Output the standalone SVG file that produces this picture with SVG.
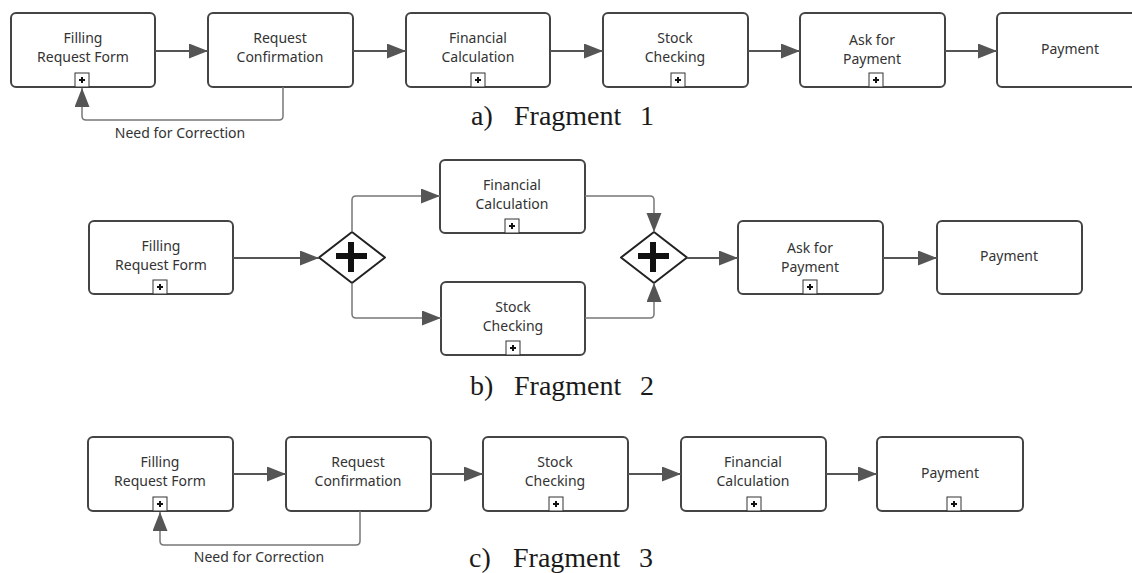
<svg xmlns="http://www.w3.org/2000/svg" width="1132" height="573" viewBox="0 0 1132 573">
<style>
.box{fill:#fff;stroke:#444;stroke-width:2}
.lbl{font-family:"Noto Sans","Open Sans",sans-serif;font-size:14px;fill:#333;text-anchor:middle}
.cap{font-family:"Liberation Serif","DejaVu Serif",serif;font-size:28px;fill:#1a1a1a}
.flow{fill:none;stroke:#555;stroke-width:2}
.thin{fill:none;stroke:#777;stroke-width:1.5}
.mk{fill:#fff;stroke:#333;stroke-width:1}
.mkp{fill:none;stroke:#111;stroke-width:2}
.gw{fill:#fff;stroke:#222;stroke-width:2;stroke-linejoin:round}
.plus{fill:none;stroke:#111;stroke-width:6}
</style>
<defs>
<marker id="ah" markerUnits="userSpaceOnUse" markerWidth="20" markerHeight="16" refX="19" refY="7.5" orient="auto">
<path d="M0,0 L19,7.5 L0,15 z" fill="#555"/>
</marker>
<g id="sub">
<rect class="mk" x="-7" y="-14" width="14" height="14"/>
<path class="mkp" d="M-3,-7 H3 M0,-10 V-4"/>
</g>
</defs>

<!-- Fragment 1 -->
<g id="f1-filling"><rect class="box" x="11" y="13" width="144" height="74" rx="5"/><text class="lbl" x="83" y="43">Filling</text><text class="lbl" x="83" y="62">Request Form</text><use href="#sub" x="82" y="87"/></g>
<g id="f1-confirm"><rect class="box" x="208" y="13" width="145" height="74" rx="5"/><text class="lbl" x="280" y="43">Request</text><text class="lbl" x="280" y="62">Confirmation</text></g>
<g id="f1-financial"><rect class="box" x="406" y="13" width="144" height="74" rx="5"/><text class="lbl" x="478" y="43">Financial</text><text class="lbl" x="478" y="62">Calculation</text><use href="#sub" x="478" y="87"/></g>
<g id="f1-stock"><rect class="box" x="603" y="13" width="145" height="74" rx="5"/><text class="lbl" x="675" y="43">Stock</text><text class="lbl" x="675" y="62">Checking</text><use href="#sub" x="678" y="87"/></g>
<g id="f1-ask"><rect class="box" x="800" y="13" width="145" height="74" rx="5"/><text class="lbl" x="872" y="45">Ask for</text><text class="lbl" x="872" y="64">Payment</text><use href="#sub" x="876" y="87"/></g>
<g id="f1-payment"><rect class="box" x="997" y="13" width="145" height="74" rx="5"/><text class="lbl" x="1070" y="54">Payment</text></g>
<text class="cap" x="471" y="125">a)</text><text class="cap" x="514" y="125">Fragment</text><text class="cap" x="640" y="125">1</text>

<!-- Fragment 2 -->
<g id="f2-filling"><rect class="box" x="89" y="221" width="144" height="73" rx="5"/><text class="lbl" x="161" y="251">Filling</text><text class="lbl" x="161" y="270">Request Form</text><use href="#sub" x="160" y="294"/></g>
<g id="f2-split"><path class="gw" d="M352,232 L385,257.5 L352,283 L319,257.5 Z"/><path class="plus" d="M336,256 H367 M351,242 V272"/></g>
<g id="f2-financial"><rect class="box" x="440" y="160" width="145" height="73" rx="5"/><text class="lbl" x="512" y="190">Financial</text><text class="lbl" x="512" y="209">Calculation</text><use href="#sub" x="512" y="233"/></g>
<g id="f2-stock"><rect class="box" x="441" y="282" width="144" height="73" rx="5"/><text class="lbl" x="513" y="312">Stock</text><text class="lbl" x="513" y="331">Checking</text><use href="#sub" x="513" y="355"/></g>
<g id="f2-join"><path class="gw" d="M654,232 L687,257.5 L654,283 L621,257.5 Z"/><path class="plus" d="M638,256 H669 M653,242 V272"/></g>
<g id="f2-ask"><rect class="box" x="738" y="221" width="145" height="73" rx="5"/><text class="lbl" x="810" y="253">Ask for</text><text class="lbl" x="810" y="272">Payment</text><use href="#sub" x="810" y="294"/></g>
<g id="f2-payment"><rect class="box" x="937" y="221" width="145" height="73" rx="5"/><text class="lbl" x="1009" y="261">Payment</text></g>
<text class="cap" x="470" y="395">b)</text><text class="cap" x="514" y="395">Fragment</text><text class="cap" x="640" y="395">2</text>

<!-- Fragment 3 -->
<g id="f3-filling"><rect class="box" x="88" y="437" width="145" height="74" rx="5"/><text class="lbl" x="160" y="467">Filling</text><text class="lbl" x="160" y="486">Request Form</text><use href="#sub" x="160" y="511"/></g>
<g id="f3-confirm"><rect class="box" x="286" y="437" width="145" height="74" rx="5"/><text class="lbl" x="358" y="467">Request</text><text class="lbl" x="358" y="486">Confirmation</text></g>
<g id="f3-stock"><rect class="box" x="483" y="437" width="145" height="74" rx="5"/><text class="lbl" x="555" y="467">Stock</text><text class="lbl" x="555" y="486">Checking</text><use href="#sub" x="556" y="511"/></g>
<g id="f3-financial"><rect class="box" x="681" y="437" width="145" height="74" rx="5"/><text class="lbl" x="753" y="467">Financial</text><text class="lbl" x="753" y="486">Calculation</text><use href="#sub" x="754" y="511"/></g>
<g id="f3-payment"><rect class="box" x="877" y="437" width="146" height="74" rx="5"/><text class="lbl" x="950" y="478">Payment</text><use href="#sub" x="954" y="511"/></g>
<text class="cap" x="469" y="567">c)</text><text class="cap" x="513" y="567">Fragment</text><text class="cap" x="639" y="567">3</text>

<g id="connectors">
<path class="flow" d="M155,51 H208" marker-end="url(#ah)"/>
<path class="flow" d="M353,51 H406" marker-end="url(#ah)"/>
<path class="flow" d="M550,51 H603" marker-end="url(#ah)"/>
<path class="flow" d="M748,51 H800" marker-end="url(#ah)"/>
<path class="flow" d="M945,51 H997" marker-end="url(#ah)"/>
<path class="thin" d="M283,87 V116 Q283,120 279,120 H86 Q82,120 82,116 V88" marker-end="url(#ah)"/>
<text class="lbl" x="180" y="138">Need for Correction</text>

<path class="flow" d="M233,258 H319" marker-end="url(#ah)"/>
<path class="thin" d="M352,232 V200 Q352,196 356,196 H440" marker-end="url(#ah)"/>
<path class="thin" d="M352,283 V314 Q352,318 356,318 H441" marker-end="url(#ah)"/>
<path class="thin" d="M585,196 H650 Q654,196 654,200 V232" marker-end="url(#ah)"/>
<path class="thin" d="M585,318 H650 Q654,318 654,314 V283" marker-end="url(#ah)"/>
<path class="flow" d="M687,258 H738" marker-end="url(#ah)"/>
<path class="flow" d="M883,258 H937" marker-end="url(#ah)"/>

<path class="flow" d="M233,474 H286" marker-end="url(#ah)"/>
<path class="flow" d="M431,474 H483" marker-end="url(#ah)"/>
<path class="flow" d="M628,474 H681" marker-end="url(#ah)"/>
<path class="flow" d="M826,474 H877" marker-end="url(#ah)"/>
<path class="thin" d="M360,511 V541 Q360,545 356,545 H164 Q160,545 160,541 V512" marker-end="url(#ah)"/>
<text class="lbl" x="259" y="562">Need for Correction</text>
</g>
</svg>
